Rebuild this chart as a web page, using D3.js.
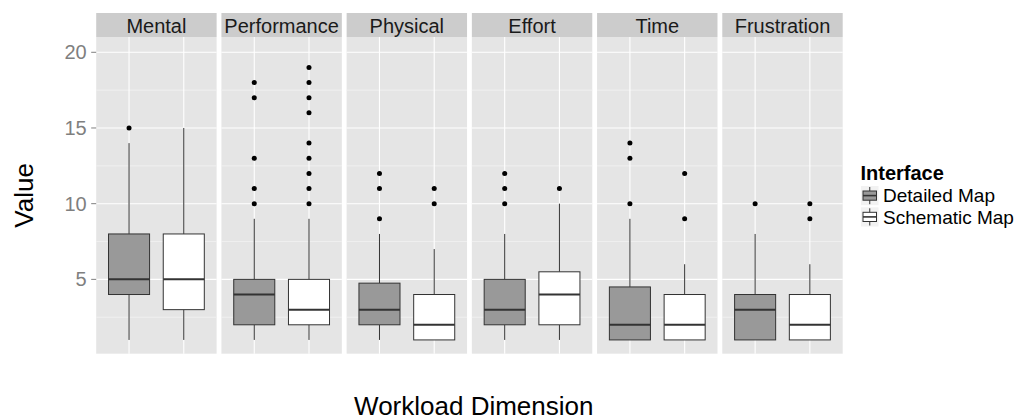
<!DOCTYPE html>
<html>
<head>
<meta charset="utf-8">
<script src="https://cdn.jsdelivr.net/npm/d3@7/dist/d3.min.js"></script>
<style>
  html, body { margin: 0; padding: 0; background: #ffffff; }
  svg { display: block; font-family: "Liberation Sans", Arial, sans-serif; }
</style>
</head>
<body>
<svg id="chart" width="1027" height="420"></svg>
<script>
// ---- data ----
const dimensions = ["Mental", "Performance", "Physical", "Effort", "Time", "Frustration"];
const interfaces = ["Detailed Map", "Schematic Map"];
const fills = ["#999999", "#FFFFFF"];

const detailedLower   = [1, 1, 1, 1, 1, 1];
const detailedQ1      = [4, 2, 2, 2, 1, 1];
const detailedMedian  = [5, 4, 3, 3, 2, 3];
const detailedQ3      = [8, 5, 4.75, 5, 4.5, 4];
const detailedUpper   = [14, 9, 8, 8, 9, 8];
const detailedOutliers = [[15], [10, 11, 13, 17, 18], [9, 11, 12], [10, 11, 12], [10, 13, 14], [10]];

const schematicLower   = [1, 1, 1, 1, 1, 1];
const schematicQ1      = [3, 2, 1, 2, 1, 1];
const schematicMedian  = [5, 3, 2, 4, 2, 2];
const schematicQ3      = [8, 5, 4, 5.5, 4, 4];
const schematicUpper   = [15, 9, 7, 10, 6, 6];
const schematicOutliers = [[], [10, 11, 12, 13, 14, 16, 17, 18, 19], [10, 11], [11], [9, 12], [9, 10]];

const yTicks = [5, 10, 15, 20];
const yMinor = [2.5, 7.5, 12.5, 17.5];

// ---- build table ----
const series = [
  {lower: detailedLower, q1: detailedQ1, med: detailedMedian, q3: detailedQ3, upper: detailedUpper, out: detailedOutliers},
  {lower: schematicLower, q1: schematicQ1, med: schematicMedian, q3: schematicQ3, upper: schematicUpper, out: schematicOutliers}
];
const rows = [];
dimensions.forEach((d, i) => {
  interfaces.forEach((f, j) => {
    const s = series[j];
    rows.push({dim: d, iface: f, idx: j, lower: s.lower[i], q1: s.q1[i], med: s.med[i], q3: s.q3[i], upper: s.upper[i], out: s.out[i]});
  });
});

// ---- layout ----
const svg = d3.select("#chart");
const plotLeft = 96.2, plotRight = 842.7, plotTop = 37, plotBottom = 353.7, stripTop = 13;
const gap = 4.8;
const panelW = (plotRight - plotLeft - gap * (dimensions.length - 1)) / dimensions.length;

const fx = d3.scaleBand().domain(dimensions).range([plotLeft, plotRight + gap]).paddingInner(0).paddingOuter(0);
const xIn = d3.scaleLinear().domain([0.4, 2.6]).range([0, panelW]);
const y = d3.scaleLinear().domain([0.09, 21.01]).range([plotBottom, plotTop]);
const boxHalf = (xIn(1.375) - xIn(1));

// panels
const panels = svg.selectAll("g.panel").data(dimensions).enter().append("g")
  .attr("class", "panel")
  .attr("transform", d => `translate(${fx(d)},0)`);

panels.append("rect")
  .attr("x", 0).attr("y", plotTop).attr("width", panelW).attr("height", plotBottom - plotTop)
  .attr("fill", "#E5E5E5");

panels.each(function() {
  const g = d3.select(this);
  g.selectAll("line.minor").data(yMinor).enter().append("line")
    .attr("x1", 0).attr("x2", panelW)
    .attr("y1", d => y(d)).attr("y2", d => y(d))
    .attr("stroke", "#F2F2F2").attr("stroke-width", 0.8);
  g.selectAll("line.major").data(yTicks).enter().append("line")
    .attr("x1", 0).attr("x2", panelW)
    .attr("y1", d => y(d)).attr("y2", d => y(d))
    .attr("stroke", "#FFFFFF").attr("stroke-width", 1.1);
  g.selectAll("line.vmajor").data([1, 2]).enter().append("line")
    .attr("x1", d => xIn(d)).attr("x2", d => xIn(d))
    .attr("y1", plotTop).attr("y2", plotBottom)
    .attr("stroke", "#FFFFFF").attr("stroke-width", 1.1);
});

// strips
panels.append("rect")
  .attr("x", 0).attr("y", stripTop).attr("width", panelW).attr("height", plotTop - stripTop)
  .attr("fill", "#CCCCCC");
panels.append("text")
  .attr("x", panelW / 2).attr("y", 33)
  .attr("text-anchor", "middle")
  .attr("font-size", 20).attr("fill", "#1A1A1A")
  .text(d => d);

// boxes
const boxes = svg.selectAll("g.box").data(rows).enter().append("g")
  .attr("class", "box")
  .attr("transform", d => `translate(${fx(d.dim) + xIn(d.idx + 1)},0)`);

boxes.append("line")
  .attr("x1", 0).attr("x2", 0)
  .attr("y1", d => y(d.q3)).attr("y2", d => y(d.upper))
  .attr("stroke", "#333333").attr("stroke-width", 1);
boxes.append("line")
  .attr("x1", 0).attr("x2", 0)
  .attr("y1", d => y(d.q1)).attr("y2", d => y(d.lower))
  .attr("stroke", "#333333").attr("stroke-width", 1);
boxes.append("rect")
  .attr("x", -boxHalf).attr("width", boxHalf * 2)
  .attr("y", d => y(d.q3)).attr("height", d => y(d.q1) - y(d.q3))
  .attr("fill", d => fills[d.idx]).attr("stroke", "#333333").attr("stroke-width", 1);
boxes.append("line")
  .attr("x1", -boxHalf).attr("x2", boxHalf)
  .attr("y1", d => y(d.med)).attr("y2", d => y(d.med))
  .attr("stroke", "#333333").attr("stroke-width", 2);
boxes.each(function(d) {
  d3.select(this).selectAll("circle").data(d.out).enter().append("circle")
    .attr("cx", 0).attr("cy", v => y(v)).attr("r", 2.5).attr("fill", "#000000");
});

// y axis
const yAxisG = svg.append("g");
yAxisG.selectAll("line").data(yTicks).enter().append("line")
  .attr("x1", plotLeft - 5).attr("x2", plotLeft)
  .attr("y1", d => y(d)).attr("y2", d => y(d))
  .attr("stroke", "#7F7F7F").attr("stroke-width", 1);
yAxisG.selectAll("text").data(yTicks).enter().append("text")
  .attr("x", plotLeft - 9.5).attr("y", d => y(d) + 7)
  .attr("text-anchor", "end").attr("font-size", 20).attr("fill", "#7F7F7F")
  .text(d => d);

// axis titles
svg.append("text")
  .attr("transform", `translate(33,${(plotTop + plotBottom) / 2}) rotate(-90)`)
  .attr("text-anchor", "middle").attr("font-size", 26).attr("fill", "#000000")
  .text("Value");
svg.append("text")
  .attr("x", 473.8).attr("y", 415)
  .attr("text-anchor", "middle").attr("font-size", 26).attr("fill", "#000000")
  .text("Workload Dimension");

// legend
const lg = svg.append("g");
lg.append("text").attr("x", 860.5).attr("y", 180)
  .attr("font-size", 20).attr("font-weight", "bold").attr("fill", "#000000")
  .text("Interface");
const keyW = 17.5, keyH = 19.2, keyStep = 21.3, keyX = 861, keyY0 = 186;
const items = lg.selectAll("g.item").data(interfaces).enter().append("g")
  .attr("transform", (d, i) => `translate(${keyX},${keyY0 + i * keyStep})`);
items.append("rect").attr("x", 0).attr("y", 0).attr("width", keyW).attr("height", keyH)
  .attr("fill", "#F2F2F2");
items.append("line").attr("x1", keyW / 2).attr("x2", keyW / 2).attr("y1", 1).attr("y2", keyH - 1)
  .attr("stroke", "#333333").attr("stroke-width", 1);
items.append("rect").attr("x", 2).attr("y", 5).attr("width", keyW - 4).attr("height", keyH - 10)
  .attr("fill", (d, i) => fills[i]).attr("stroke", "#333333").attr("stroke-width", 1);
items.append("line").attr("x1", 2).attr("x2", keyW - 2).attr("y1", keyH / 2).attr("y2", keyH / 2)
  .attr("stroke", "#333333").attr("stroke-width", 1.6);
items.append("text").attr("x", keyW + 4.5).attr("y", keyH / 2 + 6.8)
  .attr("font-size", 19).attr("fill", "#000000")
  .text(d => d);
</script>
</body>
</html>
